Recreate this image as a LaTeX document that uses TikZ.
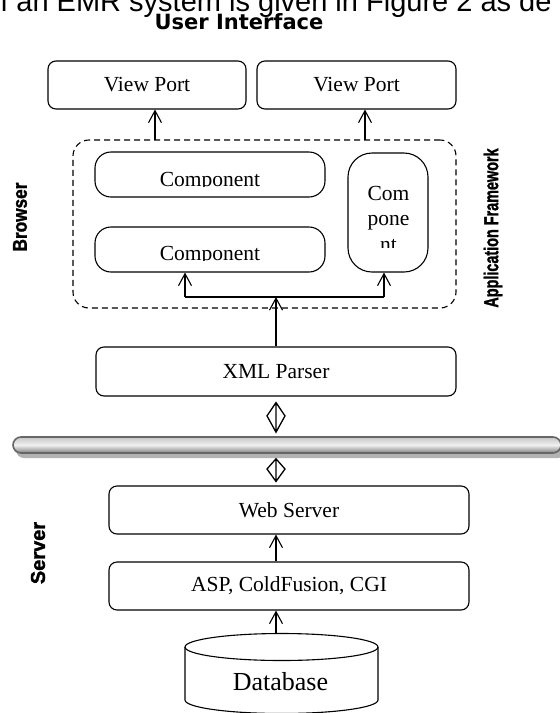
\documentclass[tikz,border=0pt]{standalone}
\usepackage{fontspec}
\setmainfont{Liberation Serif}
\newfontfamily\arialfont{Liberation Sans}
\newfontfamily\tierfont[BoldFeatures={FakeBold=1.6}]{Liberation Sans}
\newfontfamily\uifont{DejaVu Sans}
\usetikzlibrary{arrows.meta,calc}

\tikzset{
  layer/.style={draw, line width=1.1pt, rounded corners=8pt, inner sep=0pt,
    font=\fontsize{21.5}{23}\selectfont},
  compbox/.style={draw, line width=1.1pt, rounded corners=16pt, inner sep=0pt},
  comptext/.style={anchor=base, inner sep=0pt, font=\fontsize{21.5}{23}\selectfont},
  upar/.style={line width=1.1pt, -{Straight Barb[length=12pt,width=13pt,line width=1.1pt]}},
  link/.style={line width=1.1pt},
  dblar/.style={line width=1.3pt, line join=miter},
  tierlabel/.style={rotate=90, inner sep=0pt,
    font=\tierfont\bfseries\fontsize{20}{20}\selectfont},
}

\begin{document}
\begin{tikzpicture}[x=1pt,y=-1pt]
\useasboundingbox (0,0) rectangle (560,713);
\clip (0,0) rectangle (560,713);

% running sentence cut by the top edge
\node[anchor=base west, inner sep=0pt, font=\arialfont\fontsize{29}{30}\selectfont]
  (lead) at (-16,11) {of an EMR system is given in Figure 2 as de};

\node[anchor=base, inner sep=0pt, font=\uifont\bfseries\fontsize{21}{21}\selectfont]
  (ui) at (239,29) {User Interface};

% view ports
\node[layer, minimum width=198pt, minimum height=48pt] (vp1) at (147,85) {View Port};
\node[layer, minimum width=199pt, minimum height=48pt] (vp2) at (356.5,85) {View Port};

% application framework
\node[draw, line width=1.1pt, dash pattern=on 6pt off 4pt, rounded corners=16pt,
  minimum width=383pt, minimum height=168pt, inner sep=0pt] (fw) at (264.5,224) {};

\node[compbox, minimum width=230pt, minimum height=45pt] (c1) at (210,174.5) {};
\node[compbox, minimum width=230pt, minimum height=45pt] (c2) at (210,249.5) {};
\node[compbox, rounded corners=24pt, minimum width=80pt, minimum height=119pt] (c3) at (388,212.5) {};

\begin{scope}
  \clip (96,153) rectangle (324,186.5);
  \node[comptext] (c1t) at (210,186) {Component};
\end{scope}
\begin{scope}
  \clip (96,228) rectangle (324,260.5);
  \node[comptext] (c2t) at (210,260) {Component};
\end{scope}
\begin{scope}
  \clip (350,155) rectangle (426,247);
  \node[comptext] (c3a) at (388.5,200) {Com};
  \node[comptext] (c3b) at (388.5,225.5) {pone};
  \node[comptext] (c3c) at (388.5,251) {nt};
\end{scope}

\node[tierlabel] (lbrowser) at (20,217) {\scalebox{0.86}[1]{Browser}};
\node[tierlabel] (lframe) at (493,228) {\scalebox{0.72}[1]{Application Framework}};

% arrows up to the view ports
\coordinate (v1) at (155,140);
\coordinate (v2) at (365,140);
\draw[upar] (v1) -- (v1 |- vp1.south);
\draw[upar] (v2) -- (v2 |- vp2.south);

% xml parser
\node[layer, minimum width=360pt, minimum height=49pt] (xml) at (276,371.5) {XML Parser};

% fan-out to the components
\coordinate (j) at (276,297);
\coordinate (jl) at (185,297);
\coordinate (jr) at (384,297);
\draw[upar] (xml.north) -- (j);
\draw[link] (jl) -- (jr);
\draw[upar] (jl) -- (jl |- c2.south);
\draw[upar] (jr) -- (jr |- c3.south);

% network pipe
\fill[black!30, rounded corners=8pt] (16,442) rectangle (566,458);
\node[draw=black!60, line width=1.6pt, rounded corners=8pt,
  top color=black!22, bottom color=black!50, middle color=black!6,
  minimum width=548pt, minimum height=16pt, inner sep=0pt] (net) at (287,445) {};

% web server and scripting layer
\node[layer, minimum width=360pt, minimum height=48pt] (web) at (289,510) {Web Server};
\node[layer, minimum width=360pt, minimum height=48pt] (asp) at (289,586) {ASP, ColdFusion, CGI};

% two-way links through the network
\coordinate (d1t) at ($(xml.south)+(0,6)$);
\coordinate (d1b) at ($(d1t |- net.north)+(0,-4)$);
\draw[dblar] (d1t) -- ($(d1t)!0.45!(d1b)+(-9,0)$) -- (d1b) -- ($(d1t)!0.45!(d1b)+(9,0)$) -- cycle
  (d1t) -- (d1b);
\coordinate (d2t) at ($(d1t |- net.south)+(0,5)$);
\coordinate (d2b) at ($(d1t |- web.north)+(0,-4)$);
\draw[dblar] (d2t) -- ($(d2t)!0.45!(d2b)+(-9,0)$) -- (d2b) -- ($(d2t)!0.45!(d2b)+(9,0)$) -- cycle
  (d2t) -- (d2b);

\draw[upar] (asp.north -| d1t) -- (web.south -| d1t);

% database
\draw[link] (185,647) -- (185,700) arc[start angle=180, end angle=0, x radius=96.5, y radius=13.5] -- (378,647);
\draw[link] (281.5,647) ellipse[x radius=96.5, y radius=13.5];
\coordinate (dbtop) at (281,633.5);
\node[inner sep=0pt, font=\fontsize{26}{26}\selectfont] (db) at (280.5,682) {Database};
\draw[upar] (dbtop -| d1t) -- (asp.south -| d1t);

\node[tierlabel] (lserver) at (38,553) {\scalebox{1}[1]{Server}};
\end{tikzpicture}
\end{document}
